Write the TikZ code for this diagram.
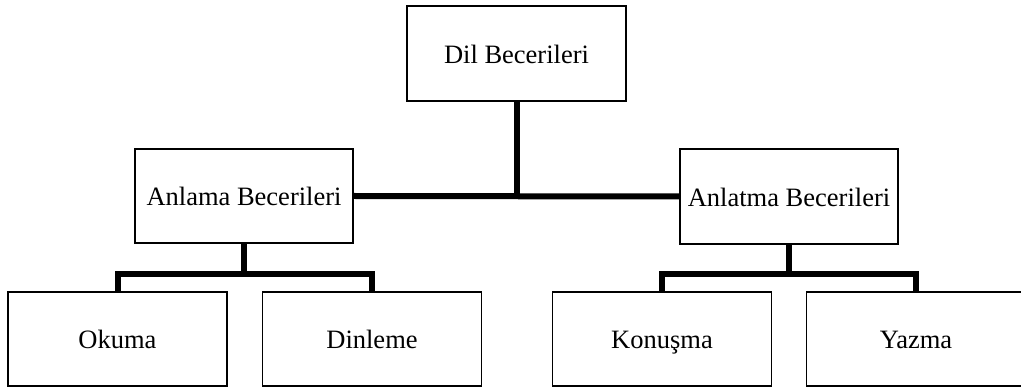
\documentclass[tikz,border=0pt]{standalone}
\usepackage{fontspec}
\setmainfont{Liberation Serif}
\begin{document}
\begin{tikzpicture}[x=1pt,y=-1pt,
  box/.style={draw=black,line width=1.6pt,fill=white,inner sep=0pt,
    text height=23pt,text depth=3pt,
    minimum width=219pt,minimum height=95pt,font=\fontsize{26.5}{30}\selectfont},
  conn/.style={line width=6pt,line join=miter,draw=black}]
\useasboundingbox (0,0) rectangle (1021,387);
\fill[white] (0,0) rectangle (1021,387);
\node[box] (top) at (516.5,53.5) {Dil Becerileri};
\node[box,minimum width=218pt,minimum height=94pt] (lm) at (244,196) {Anlama Becerileri};
\node[box,minimum width=218pt] (rm) at (789,196.5) {Anlatma Becerileri};
\node[box,minimum height=94pt] (ok) at (117.5,339) {Okuma};
\node[box,minimum height=94pt] (di) at (372,339) {Dinleme};
\node[box,minimum height=94pt] (ko) at (662,339) {Konuşma};
\node[box,minimum height=94pt] (ya) at (916,339) {Yazma};
\coordinate (jl) at (244,274);
\coordinate (jr) at (789,274);
\draw[conn] (lm.east) -- (rm.west);
\draw[conn] (top.south) -- (top.south |- lm.east);
\draw[conn] (lm.south) -- (jl);
\draw[conn] (ok.north) |- (jl) -| (di.north);
\draw[conn] (rm.south) -- (jr);
\draw[conn] (ko.north) |- (jr) -| (ya.north);
\end{tikzpicture}
\end{document}
